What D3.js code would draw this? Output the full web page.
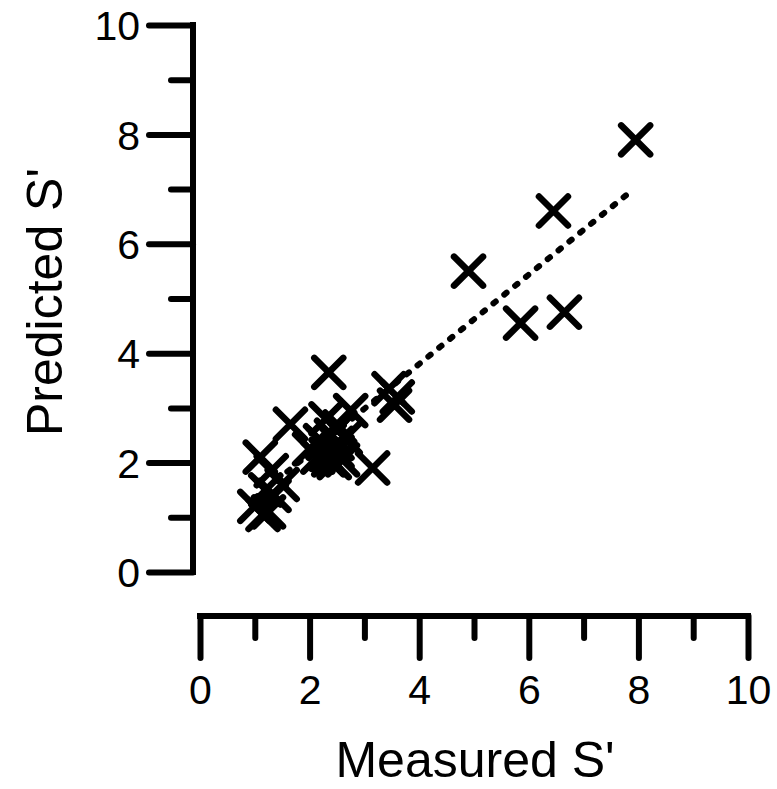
<!DOCTYPE html>
<html>
<head>
<meta charset="utf-8">
<script src="https://cdn.jsdelivr.net/npm/d3@7"></script>
<style>
  html, body { margin: 0; padding: 0; background: #fff; }
  svg { display: block; }
  text { font-family: "Liberation Sans", Arial, Helvetica, sans-serif; fill: #000; }
</style>
</head>
<body>
<svg id="chart" width="777" height="789"></svg>
<script>
// ---- data ----
const measured  = [1.0, 1.15, 1.25, 1.35, 1.5, 1.2, 1.1, 1.3, 1.65, 2.0, 2.15, 2.25, 2.35, 2.4, 2.5, 2.55, 2.3, 2.65, 2.75, 2.2, 2.45, 2.35, 2.3, 2.5, 2.6, 3.15, 3.45, 3.6, 3.55, 4.9, 5.85, 6.45, 6.65, 7.95];
const predicted = [1.2, 1.05, 1.1, 1.4, 1.6, 1.5, 2.1, 1.85, 2.7, 2.25, 2.1, 2.35, 2.05, 2.5, 2.2, 2.65, 2.8, 2.45, 2.95, 2.4, 2.0, 3.65, 2.15, 2.35, 2.05, 1.9, 3.35, 3.2, 3.05, 5.5, 4.55, 6.6, 4.75, 7.9];
const fitX = [1.0, 7.85];
const fitY = [1.35, 6.95];
const majorTicks = [0, 2, 4, 6, 8, 10];
const minorTicks = [1, 3, 5, 7, 9];
const xTitle = "Measured S'";
const yTitle = "Predicted S'";

const svg = d3.select("#chart");
const x = d3.scaleLinear().domain([0, 10]).range([200, 748]);
const y = d3.scaleLinear().domain([0, 10]).range([572, 25]);
const SW = 6;

// ---- y axis ----
const yAxisX = 193;
const gy = svg.append("g").attr("transform", `translate(${yAxisX},0)`);
gy.append("line").attr("x1", 0).attr("x2", 0)
  .attr("y1", y(10) - SW / 2).attr("y2", y(0) + SW / 2)
  .attr("stroke", "#000").attr("stroke-width", SW);
const yMajor = d3.axisLeft(y).tickValues(majorTicks).tickSize(44).tickSizeOuter(0).tickPadding(9).tickFormat(d3.format("d"));
const yMinor = d3.axisLeft(y).tickValues(minorTicks).tickSize(22).tickSizeOuter(0).tickFormat("");
const gyMaj = gy.append("g").call(yMajor);
const gyMin = gy.append("g").call(yMinor);
[gyMaj, gyMin].forEach(g => {
  g.select(".domain").remove();
  g.selectAll(".tick line").attr("stroke", "#000").attr("stroke-width", SW).attr("stroke-linecap", "round");
});
gyMaj.selectAll(".tick text").attr("font-size", 41).attr("fill", "#000")
  .attr("font-family", "'Liberation Sans', Arial, sans-serif").attr("dy", "0.36em");

// ---- x axis ----
const xAxisY = 616;
const gx = svg.append("g").attr("transform", `translate(0,${xAxisY})`);
gx.append("line").attr("y1", 0).attr("y2", 0)
  .attr("x1", x(0) - SW / 2).attr("x2", x(10) + SW / 2)
  .attr("stroke", "#000").attr("stroke-width", SW);
const xMajor = d3.axisBottom(x).tickValues(majorTicks).tickSize(42).tickSizeOuter(0).tickPadding(17).tickFormat(d3.format("d"));
const xMinor = d3.axisBottom(x).tickValues(minorTicks).tickSize(22).tickSizeOuter(0).tickFormat("");
const gxMaj = gx.append("g").call(xMajor);
const gxMin = gx.append("g").call(xMinor);
[gxMaj, gxMin].forEach(g => {
  g.select(".domain").remove();
  g.selectAll(".tick line").attr("stroke", "#000").attr("stroke-width", SW).attr("stroke-linecap", "round");
});
gxMaj.selectAll(".tick text").attr("font-size", 41).attr("fill", "#000")
  .attr("font-family", "'Liberation Sans', Arial, sans-serif");

// ---- fit line (dotted) ----
svg.append("line")
  .attr("x1", x(fitX[0])).attr("y1", y(fitY[0]))
  .attr("x2", x(fitX[1])).attr("y2", y(fitY[1]))
  .attr("stroke", "#000").attr("stroke-width", 6)
  .attr("stroke-linecap", "round").attr("stroke-dasharray", "3 11");

// ---- X markers ----
const h = 14.5;
const pts = measured.map((m, i) => ({ mx: m, py: predicted[i] }));
const gm = svg.append("g").attr("stroke", "#000").attr("stroke-width", 6.5).attr("stroke-linecap", "round").attr("fill", "none");
gm.selectAll("path").data(pts).join("path")
  .attr("d", d => {
    const cx = x(d.mx), cy = y(d.py);
    return `M${cx - h},${cy - h}L${cx + h},${cy + h}M${cx - h},${cy + h}L${cx + h},${cy - h}`;
  });

// ---- titles ----
svg.append("text").attr("x", 475).attr("y", 777).attr("text-anchor", "middle")
  .attr("font-size", 50).text(xTitle);
svg.append("text").attr("transform", "translate(62,302) rotate(-90)").attr("text-anchor", "middle")
  .attr("font-size", 50).text(yTitle);
</script>
</body>
</html>
